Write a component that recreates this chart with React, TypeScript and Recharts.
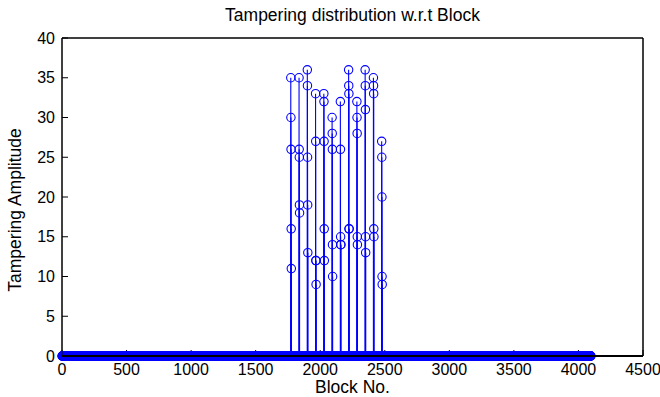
import { ComposedChart, XAxis, YAxis, Scatter, ReferenceLine } from 'recharts'

// 64 x 64 blocks, tampered area = rows 27..38, cols 44..48
const blocksPerRow = 64
const totalBlocks = 4096
const tamperRows = [27, 28, 29, 30, 31, 32, 33, 34, 35, 36, 37, 38]
const tamperCols = [44, 45, 46, 47, 48]
const tamperValues = [
  [35, 30, 26, 16, 11],
  [35, 26, 25, 19, 18],
  [36, 34, 25, 19, 13],
  [33, 27, 12, 12, 9],
  [33, 32, 27, 16, 12],
  [30, 28, 26, 14, 10],
  [32, 26, 15, 14, 14],
  [36, 34, 33, 16, 16],
  [32, 30, 28, 15, 14],
  [36, 34, 31, 15, 13],
  [35, 34, 33, 16, 15],
  [27, 25, 20, 10, 9],
]

const xTicks = [0, 500, 1000, 1500, 2000, 2500, 3000, 3500, 4000, 4500]
const yTicks = [0, 5, 10, 15, 20, 25, 30, 35, 40]

const tampered = tamperRows.flatMap((r, i) =>
  tamperCols.map((c, j) => ({ block: r * blocksPerRow + c, amp: tamperValues[i][j] })),
)
const tamperedSet = new Set(tampered.map((d) => d.block))
const untouched = Array.from({ length: totalBlocks }, (_, i) => i + 1)
  .filter((b) => !tamperedSet.has(b))
  .map((b) => ({ block: b, amp: 0 }))

const BLUE = '#0000ff'
const FONT = '"Liberation Sans", Arial, Helvetica, sans-serif'
const W = 660
const H = 397
const MARGIN = { top: 37, right: 16, bottom: 0, left: 0 }

const Marker = (p: any) => (
  <circle cx={p.cx} cy={p.cy} r={4.2} fill="none" stroke={BLUE} strokeWidth={1.1} />
)
const NoMarker = () => <g />

// axes frame, drawn twice: under the data (with labels) and on top (box + baseline)
function Frame({ labels }: { labels: boolean }) {
  return [
    <XAxis
      key="xb"
      xAxisId="b"
      type="number"
      dataKey="block"
      domain={[0, 4500]}
      ticks={xTicks}
      height={41}
      tickSize={-6}
      tickMargin={14}
      stroke="#000"
      axisLine={{ stroke: '#000', strokeWidth: labels ? 1 : 2 }}
      tick={labels ? { fill: '#000', fontSize: 16 } : false}
      label={labels ? { value: 'Block No.', position: 'insideBottom', offset: 4, fill: '#000', fontSize: 17.5 } : undefined}
    />,
    <XAxis
      key="xt"
      xAxisId="t"
      type="number"
      dataKey="block"
      orientation="top"
      domain={[0, 4500]}
      ticks={xTicks}
      height={1}
      tickSize={-6}
      tick={false}
      stroke="#000"
      label={labels ? { value: 'Tampering distribution w.r.t Block', position: 'top', offset: 16, fill: '#000', fontSize: 17.5 } : undefined}
    />,
    <YAxis
      key="yl"
      yAxisId="l"
      type="number"
      domain={[0, 40]}
      ticks={yTicks}
      width={62}
      tickSize={-6}
      tickMargin={13}
      stroke="#000"
      tick={labels ? { fill: '#000', fontSize: 16 } : false}
      label={
        labels
          ? {
              value: 'Tampering Amplitude',
              content: () => (
                <text x={21} y={210} transform="rotate(-90 21 210)" textAnchor="middle" fill="#000" fontSize={17.5} fontFamily={FONT}>
                  Tampering Amplitude
                </text>
              ),
            }
          : undefined
      }
    />,
    <YAxis
      key="yr"
      yAxisId="r"
      orientation="right"
      type="number"
      domain={[0, 40]}
      ticks={yTicks}
      width={1}
      tickSize={-6}
      tick={false}
      stroke="#000"
    />,
  ]
}

export default function App() {
  return (
    <div style={{ position: 'absolute', left: 0, top: 0, width: W, height: H, background: '#fff', fontFamily: FONT }}>
      <ComposedChart width={W} height={H} margin={MARGIN}>
        {Frame({ labels: true })}
        {tampered.map((d) => (
          <ReferenceLine
            key={d.block}
            xAxisId="b"
            yAxisId="l"
            segment={[{ x: d.block, y: 0 }, { x: d.block, y: d.amp }]}
            stroke={BLUE}
            strokeWidth={1.1}
          />
        ))}
        <Scatter xAxisId="b" yAxisId="l" data={untouched} dataKey="amp" shape={Marker} isAnimationActive={false} />
        <Scatter xAxisId="b" yAxisId="l" data={tampered} dataKey="amp" shape={Marker} isAnimationActive={false} />
        <Scatter xAxisId="t" yAxisId="r" data={tampered} dataKey="amp" shape={NoMarker} isAnimationActive={false} />
      </ComposedChart>
      <div style={{ position: 'absolute', left: 0, top: 0, pointerEvents: 'none' }}>
        <ComposedChart width={W} height={H} margin={MARGIN}>
          {Frame({ labels: false })}
          <Scatter xAxisId="b" yAxisId="l" data={tampered} dataKey="amp" shape={NoMarker} isAnimationActive={false} />
          <Scatter xAxisId="t" yAxisId="r" data={tampered} dataKey="amp" shape={NoMarker} isAnimationActive={false} />
        </ComposedChart>
      </div>
    </div>
  )
}
